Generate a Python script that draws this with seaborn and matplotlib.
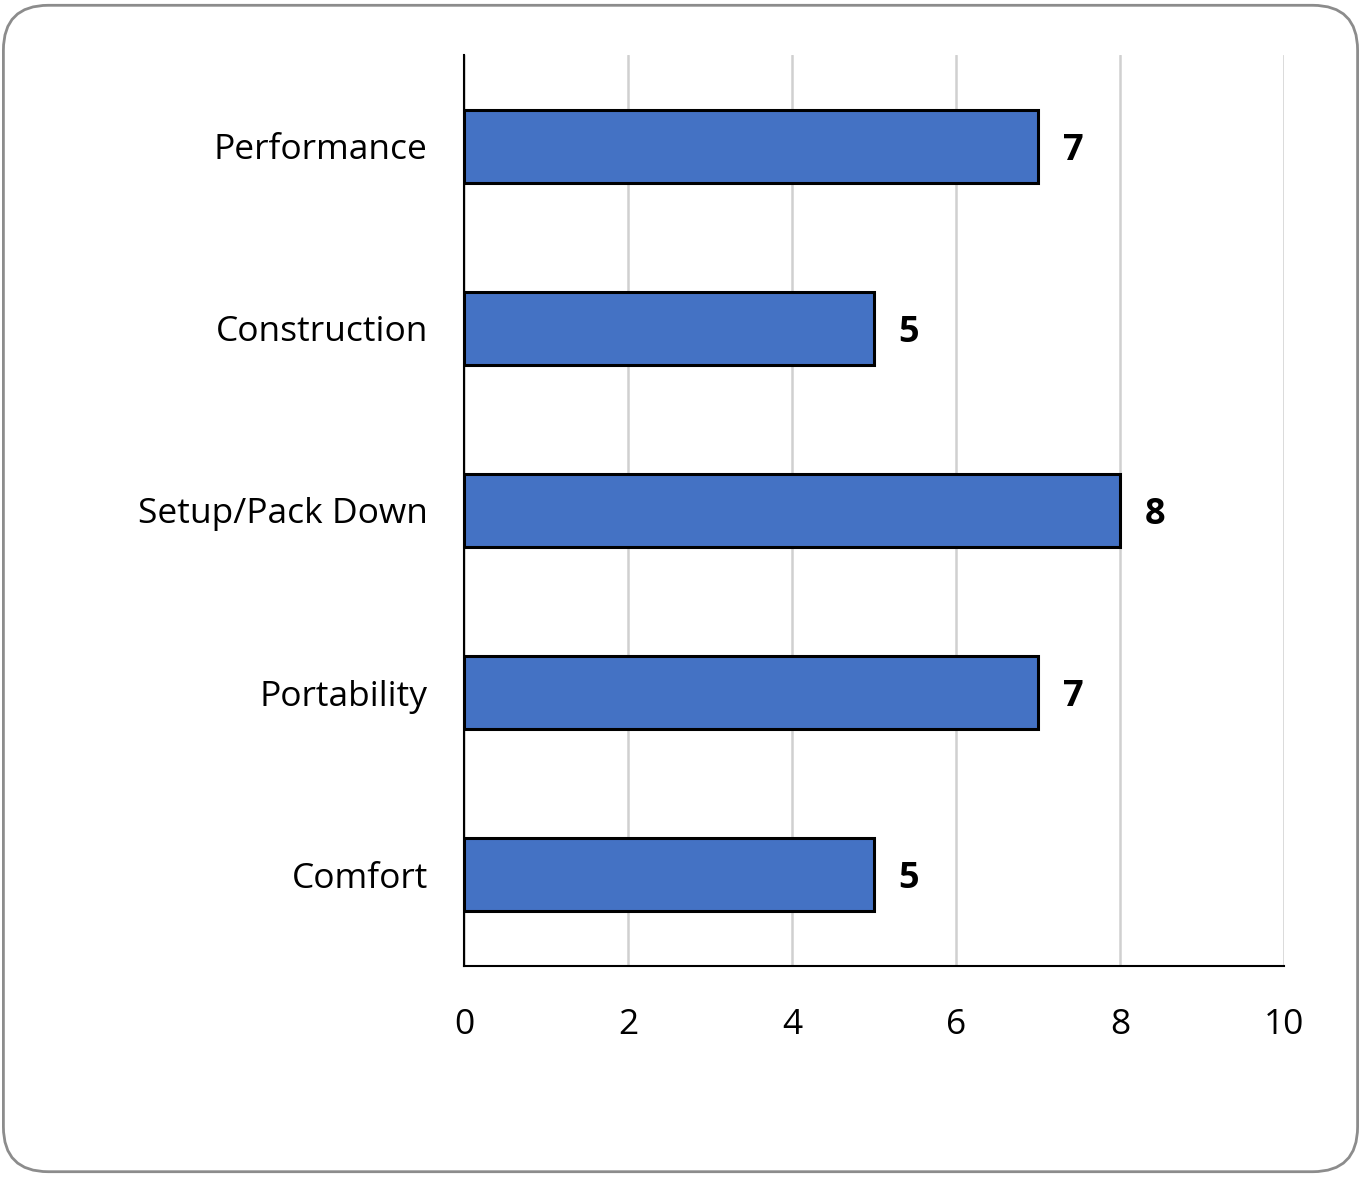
import matplotlib
matplotlib.use("Agg")
import matplotlib.pyplot as plt
import seaborn as sns
import pandas as pd
from matplotlib.patches import FancyBboxPatch

# 数据
categories = ["Performance", "Construction", "Setup/Pack Down", "Portability", "Comfort"]
scores = [7, 5, 8, 7, 5]
x_ticks = [0, 2, 4, 6, 8, 10]

df = pd.DataFrame({"category": categories, "score": scores})

sns.set_style("white")
plt.rcParams["font.family"] = ["Open Sans", "DejaVu Sans"]
plt.rcParams["text.color"] = "black"
plt.rcParams["xtick.color"] = "black"
plt.rcParams["ytick.color"] = "black"

fig = plt.figure(figsize=(13.61, 11.77), dpi=100)
ax = fig.add_axes([0.3409, 0.1793, 0.6025, 0.774])

# 圆角外框
frame = FancyBboxPatch((0.0025, 0.0045), 0.995, 0.991,
                       boxstyle="round,pad=0,rounding_size=0.033",
                       transform=fig.transFigure, facecolor="white",
                       edgecolor="#8c8c8c", linewidth=2, zorder=-10,
                       mutation_aspect=1361 / 1177)
fig.patches.append(frame)

sns.barplot(data=df, x="score", y="category", orient="h", color="#4472C4",
            saturation=1, width=0.4, edgecolor="black", linewidth=2.2, ax=ax, zorder=3)

ax.set_xlim(0, 10)
ax.set_ylim(4.5, -0.5)
ax.set_xticks(x_ticks)
ax.set_xticklabels([str(t) for t in x_ticks], fontsize=25.5)
ax.tick_params(axis="x", length=0, pad=30)
ax.tick_params(axis="y", length=0, pad=26, labelsize=25.5)
ax.set_xlabel("")
ax.set_ylabel("")

ax.grid(axis="x", color="#d0d0d0", linewidth=1.8, zorder=0)
ax.set_axisbelow(True)
for side in ["top", "right"]:
    ax.spines[side].set_visible(False)
for side in ["left", "bottom"]:
    ax.spines[side].set_color("black")
    ax.spines[side].set_linewidth(1.5)

for i, v in enumerate(scores):
    ax.text(v + 0.3, i, str(v), va="center_baseline", ha="left",
            fontsize=26, fontweight="bold", color="black")

fig.savefig("out.png", dpi=100)
